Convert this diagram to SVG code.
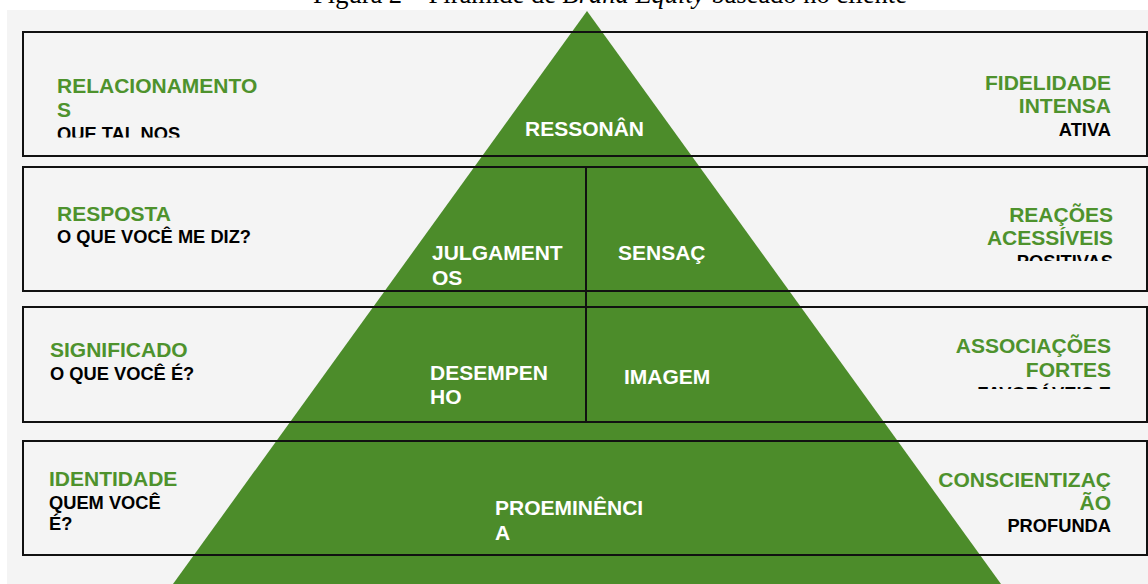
<svg xmlns="http://www.w3.org/2000/svg" width="1148" height="584" viewBox="0 0 1148 584">
  <style>
    .g { font-family: "Liberation Sans", Arial, sans-serif; font-weight: bold; font-size: 21px; fill: #4e922d; }
    .k { font-family: "Liberation Sans", Arial, sans-serif; font-weight: bold; font-size: 18.3px; fill: #000; }
    .w { font-family: "Liberation Sans", Arial, sans-serif; font-weight: bold; font-size: 21px; fill: #fff; }
    .r { text-anchor: end; }
    .band { fill: none; stroke: #111; stroke-width: 2; }
    .cap { font-family: "Liberation Serif", "Times New Roman", serif; font-size: 26.5px; fill: #000; }
  </style>
  <defs>
    <clipPath id="c1"><rect x="0" y="0" width="1148" height="137.5"/></clipPath>
    <clipPath id="c2"><rect x="0" y="0" width="1148" height="261"/></clipPath>
    <clipPath id="c3"><rect x="0" y="0" width="1148" height="389"/></clipPath>
  </defs>
  <rect x="0" y="0" width="1148" height="584" fill="#ffffff"/>
  <text class="cap" x="610" y="3" text-anchor="middle">Figura 2 – Pirâmide de <tspan font-style="italic">Brand Equity</tspan> baseado no cliente</text>
  <rect x="7" y="10" width="1141" height="574" fill="#f4f4f4"/>

  <g id="pyramid">
    <polygon points="587,11 173,584 1001,584" fill="#4c8c2a"/>
  </g>

  <g id="connectors">
    <rect class="band" x="23" y="32" width="1124" height="124"/>
    <rect class="band" x="23" y="167" width="1124" height="124"/>
    <rect class="band" x="23" y="307" width="1124" height="115"/>
    <rect class="band" x="23" y="441" width="1124" height="114"/>
    <line x1="586" y1="167" x2="586" y2="422" stroke="#111" stroke-width="2"/>
  </g>

  <g id="band-relacionamentos">
    <text class="g" x="57" y="93">RELACIONAMENTO</text>
    <text class="g" x="57" y="117">S</text>
    <text class="k" x="57" y="140" clip-path="url(#c1)">QUE TAL NOS</text>
    <text class="g r" x="1111" y="90">FIDELIDADE</text>
    <text class="g r" x="1111" y="113">INTENSA</text>
    <text class="k r" x="1111" y="136">ATIVA</text>
  </g>
  <g id="ressonancia">
    <text class="w" x="525" y="136">RESSONÂN</text>
  </g>

  <g id="band-resposta">
    <text class="g" x="57" y="221">RESPOSTA</text>
    <text class="k" x="57" y="243">O QUE VOCÊ ME DIZ?</text>
    <text class="g r" x="1113" y="222">REAÇÕES</text>
    <text class="g r" x="1113" y="245">ACESSÍVEIS</text>
    <text class="k r" x="1113" y="268" clip-path="url(#c2)">POSITIVAS</text>
  </g>
  <g id="julgamentos">
    <text class="w" x="432" y="260">JULGAMENT</text>
    <text class="w" x="432" y="285">OS</text>
  </g>
  <g id="sensacoes">
    <text class="w" x="618" y="260">SENSAÇ</text>
  </g>

  <g id="band-significado">
    <text class="g" x="50" y="357">SIGNIFICADO</text>
    <text class="k" x="50" y="380">O QUE VOCÊ É?</text>
    <text class="g r" x="1111" y="353">ASSOCIAÇÕES</text>
    <text class="g r" x="1111" y="377">FORTES</text>
    <text class="k r" x="1111" y="400" clip-path="url(#c3)">FAVORÁVEIS E</text>
  </g>
  <g id="desempenho">
    <text class="w" x="430" y="380">DESEMPEN</text>
    <text class="w" x="430" y="404">HO</text>
  </g>
  <g id="imagem">
    <text class="w" x="624" y="384">IMAGEM</text>
  </g>

  <g id="band-identidade">
    <text class="g" x="49" y="486">IDENTIDADE</text>
    <text class="k" x="49" y="509">QUEM VOCÊ</text>
    <text class="k" x="49" y="530">É?</text>
    <text class="g r" x="1111" y="487">CONSCIENTIZAÇ</text>
    <text class="g r" x="1111" y="510">ÃO</text>
    <text class="k r" x="1111" y="532">PROFUNDA</text>
  </g>
  <g id="proeminencia">
    <text class="w" x="495" y="515">PROEMINÊNCI</text>
    <text class="w" x="495" y="540">A</text>
  </g>
</svg>
